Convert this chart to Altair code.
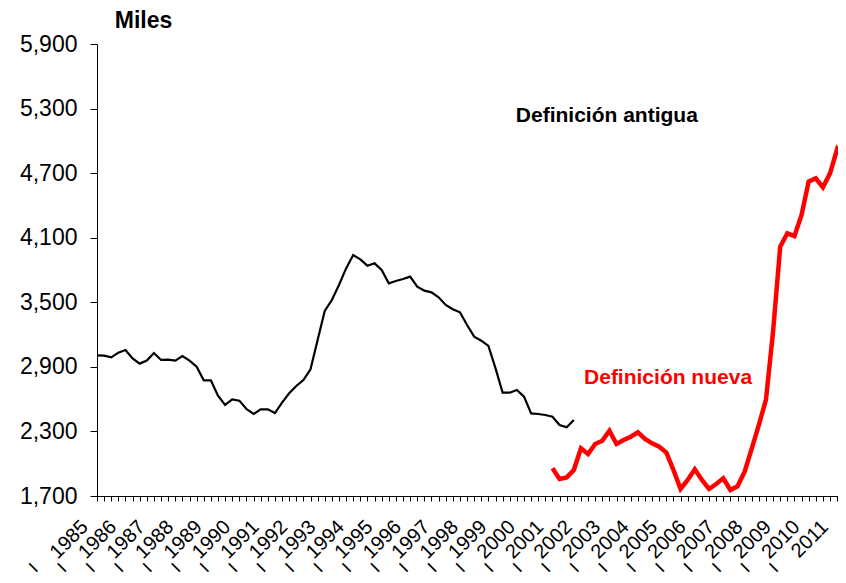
import altair as alt
import pandas as pd

FONT = "Liberation Sans"

# Quarterly series, first quarter of 1985 = index 0
old_start = 0
old_values = [3007, 3004, 2988, 3032, 3057, 2979, 2930, 2958, 3029, 2964,
              2967, 2958, 3001, 2958, 2901, 2775, 2775, 2632, 2546, 2598,
              2586, 2508, 2462, 2505, 2505, 2471, 2567, 2654, 2722, 2778,
              2877, 3150, 3419, 3521, 3661, 3815, 3939, 3899, 3840, 3862,
              3800, 3676, 3698, 3716, 3738, 3645, 3608, 3592, 3546, 3475,
              3435, 3407, 3289, 3181, 3143, 3094, 2886, 2660, 2660, 2685,
              2623, 2468, 2462, 2453, 2437, 2360, 2338, 2406]
new_start = 64
new_values = [1957, 1858, 1873, 1942, 2143, 2090, 2183, 2214, 2307, 2183,
              2220, 2251, 2292, 2230, 2189, 2158, 2103, 1942, 1765, 1849,
              1948, 1849, 1765, 1811, 1864, 1756, 1790, 1926, 2140, 2360,
              2595, 3230, 4017, 4141, 4116, 4311, 4621, 4652, 4568, 4698,
              4924, 4838]
years = list(range(1985, 2012))
y_ticks = [1700, 2300, 2900, 3500, 4100, 4700, 5300, 5900]
annotations = ["Definición antigua", "Definición nueva"]
ann_t = [2002.91, 2005.06]
ann_v = [5231, 2796]

old_df = pd.DataFrame({"t": [1985 + (old_start + i) / 4 for i in range(len(old_values))],
                       "v": old_values})
new_df = pd.DataFrame({"t": [1985 + (new_start + i) / 4 for i in range(len(new_values))],
                       "v": new_values})
year_df = pd.DataFrame({"t": [float(y) for y in years], "label": [str(y) for y in years],
                        "q": ["I"] * len(years)})
ann_df = pd.DataFrame({"t": ann_t, "v": ann_v, "label": annotations})

W, H = 741, 452
xscale = alt.Scale(domain=[1985, 2011.03], nice=False, zero=False)
yscale = alt.Scale(domain=[1700, 5900], nice=False, zero=False)
quarter_ticks = [1985 + k / 4 for k in range(105)]

xaxis = alt.Axis(values=quarter_ticks, labels=False, tickSize=5, tickColor="black",
                 domainColor="black", tickWidth=1, domainWidth=1, grid=False, title=None)
yaxis = alt.Axis(values=y_ticks, format=",.0f", labelFontSize=23, labelFont=FONT,
                 labelColor="black", tickSize=7, tickColor="black", domainColor="black",
                 labelPadding=13, grid=False, title="Miles", titleAngle=0,
                 titleX=46, titleY=-17, titleAlign="center", titleBaseline="alphabetic",
                 titleFont=FONT, titleFontSize=23, titleFontWeight="bold", titleColor="black")

X = alt.X("t:Q", scale=xscale, axis=xaxis)
Y = alt.Y("v:Q", scale=yscale, axis=yaxis)

old_line = alt.Chart(old_df).mark_line(color="black", strokeWidth=2.2).encode(x=X, y=Y)
new_line = alt.Chart(new_df).mark_line(color="#ff0000", strokeWidth=4.5, clip=True).encode(x=X, y=Y)

year_labels = alt.Chart(year_df).mark_text(
    angle=315, align="right", baseline="middle", fontSize=20, font=FONT,
    color="black", xOffset=-12
).encode(x=X, y=alt.value(480), text="label:N")

q_labels = alt.Chart(year_df).mark_text(
    angle=315, align="center", baseline="middle", fontSize=17, font=FONT,
    color="black", xOffset=-63
).encode(x=X, y=alt.value(524), text="q:N")

ann_old = alt.Chart(ann_df.iloc[[0]]).mark_text(
    fontSize=21, font=FONT, fontWeight="bold", color="black"
).encode(x=X, y=Y, text="label:N")
ann_new = alt.Chart(ann_df.iloc[[1]]).mark_text(
    fontSize=21, font=FONT, fontWeight="bold", color="#ff0000"
).encode(x=X, y=Y, text="label:N")

chart = alt.layer(old_line, new_line, year_labels, q_labels, ann_old, ann_new).properties(
    width=W, height=H,
    autosize=alt.AutoSizeParams(type="none"),
    padding={"left": 89, "top": 36, "right": 0, "bottom": 79},
    background="white",
).configure_view(stroke=None)

chart.save("out.html", embed_options={"renderer": "svg", "actions": False})
